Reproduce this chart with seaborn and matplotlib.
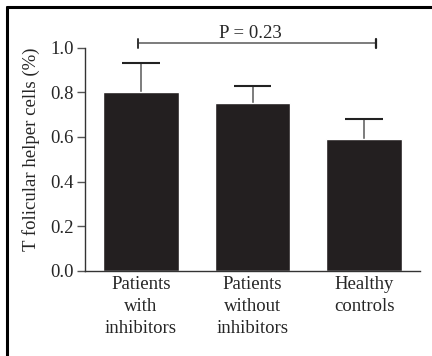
#Add libraries
import matplotlib
matplotlib.use("Agg")
import matplotlib.pyplot as plt
import seaborn as sns
from matplotlib.lines import Line2D

#Data
groups = ["Patients\nwith\ninhibitors", "Patients\nwithout\ninhibitors", "Healthy\ncontrols"]
means = [0.80, 0.75, 0.59]
upper_err = [0.13, 0.08, 0.09]
p_text = "P = 0.23"

#Style
sns.set_style("ticks")
plt.rcParams['font.family'] = ['Liberation Serif', 'DejaVu Serif']
bar_color = "#231f20"
font_size = 13.5

fig = plt.figure(figsize=(4.32, 3.56), dpi=100)
ax = fig.add_axes([0.197, 0.2396, 0.775, 0.6264])

sns.barplot(x=groups, y=means, color=bar_color, saturation=1, width=0.68, ax=ax, zorder=2)

#Upper error bars only (stem + cap)
xs = list(range(len(means)))
tops = [m + e for m, e in zip(means, upper_err)]
ax.vlines(xs, means, tops, color="#666666", lw=1.2, zorder=1)
ax.hlines(tops, [x - 0.17 for x in xs], [x + 0.17 for x in xs], color="#222222", lw=1.5, zorder=1)

#Significance bracket
ax.plot([-0.03, 2.11], [1.02, 1.02], color="#666666", lw=1.2, clip_on=False)
ax.plot([-0.03, -0.03], [1.0, 1.04], color="#333333", lw=1.4, clip_on=False)
ax.plot([2.11, 2.11], [1.0, 1.04], color="#222222", lw=1.6, clip_on=False)
ax.text(0.98, 1.026, p_text, ha='center', va='bottom', fontsize=font_size)

#Axes formatting
ax.set_xlim(-0.5, 2.5)
ax.set_ylim(0, 1.0)
ax.set_yticks([0.0, 0.2, 0.4, 0.6, 0.8, 1.0])
ax.set_yticklabels(["0.0", "0.2", "0.4", "0.6", "0.8", "1.0"], fontsize=font_size)
ax.set_xticks(xs)
ax.set_xticklabels(groups, fontsize=font_size, linespacing=1.36)
ax.tick_params(axis='x', length=0, pad=4)
ax.tick_params(axis='y', length=6, width=1, color="#555555", pad=2)
ax.set_xlabel("")
ax.set_ylabel("T folicular helper cells (%)", fontsize=font_size)
ax.yaxis.set_label_coords(-0.136, 0.545)
for side in ['top', 'right']:
    ax.spines[side].set_visible(False)
for side in ['left', 'bottom']:
    ax.spines[side].set_color("#333333")
    ax.spines[side].set_linewidth(1)

#Outer frame (top and left only)
fig.add_artist(Line2D([7 / 432, 1], [1 - 7 / 356, 1 - 7 / 356], transform=fig.transFigure, color="black", lw=2.2))
fig.add_artist(Line2D([7 / 432, 7 / 432], [0, 1 - 7 / 356], transform=fig.transFigure, color="black", lw=2.2))

fig.savefig("out.png", dpi=100)
